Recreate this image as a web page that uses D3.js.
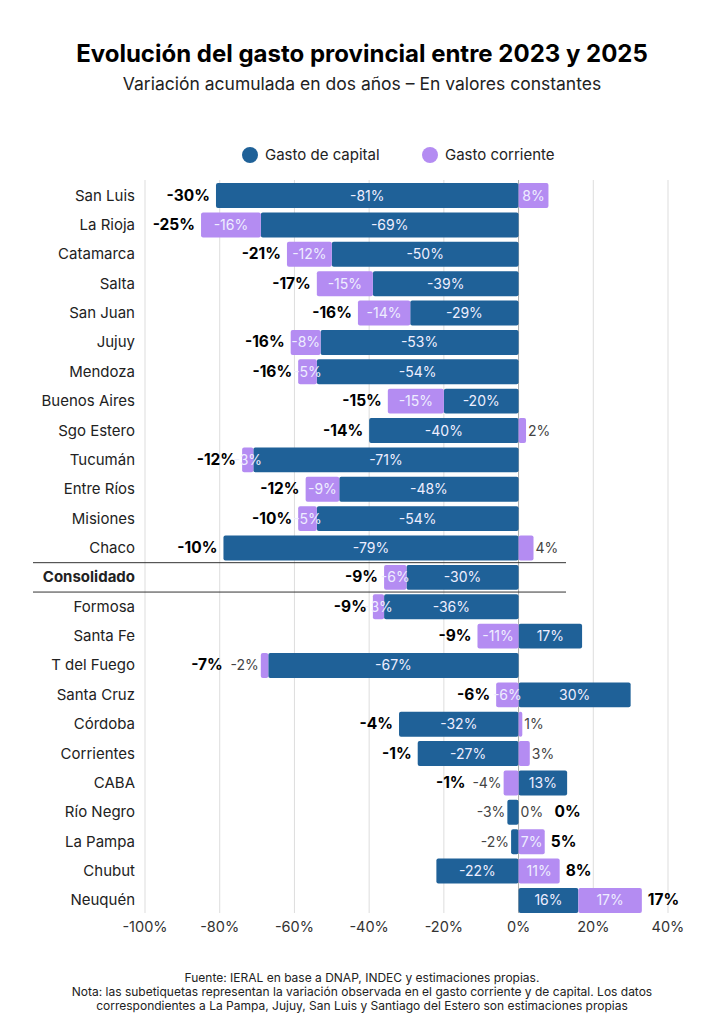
<!DOCTYPE html>
<html><head><meta charset="utf-8">
<script src="https://cdn.jsdelivr.net/npm/d3@7"></script>
<style>body{margin:0;background:#fff;font-family:Inter,"Noto Sans",sans-serif}</style>
</head><body><svg id="chart" width="724" height="1024"></svg>
<script>
const provinces = ["San Luis","La Rioja","Catamarca","Salta","San Juan","Jujuy","Mendoza","Buenos Aires","Sgo Estero","Tucumán","Entre Ríos","Misiones","Chaco","Consolidado","Formosa","Santa Fe","T del Fuego","Santa Cruz","Córdoba","Corrientes","CABA","Río Negro","La Pampa","Chubut","Neuquén"];
const capital = [-81,-69,-50,-39,-29,-53,-54,-20,-40,-71,-48,-54,-79,-30,-36,17,-67,30,-32,-27,13,-3,-2,-22,16];
const corriente = [8,-16,-12,-15,-14,-8,-5,-15,2,-3,-9,-5,4,-6,-3,-11,-2,-6,1,3,-4,0,7,11,17];
const total = [-30,-25,-21,-17,-16,-16,-16,-15,-14,-12,-12,-10,-10,-9,-9,-9,-7,-6,-4,-1,-1,0,5,8,17];
const ticks = [-100,-80,-60,-40,-20,0,20,40];

const C_CAP = "#1f6198", C_COR = "#b48cf2";
const svg = d3.select("#chart");
const x = d3.scaleLinear().domain([-100,40]).range([145,668]);
const y = d3.scaleBand().domain(provinces).range([181,915]).paddingInner(0.15).paddingOuter(0.07);

svg.append("text").attr("x",362).attr("y",62).attr("text-anchor","middle")
  .attr("font-size",24).attr("font-weight",700).text("Evolución del gasto provincial entre 2023 y 2025");
svg.append("text").attr("x",362).attr("y",90).attr("text-anchor","middle")
  .attr("font-size",17.5).attr("fill","#222").text("Variación acumulada en dos años – En valores constantes");

// legend
[[C_CAP,"Gasto de capital",250],[C_COR,"Gasto corriente",430]].forEach(([c,t,lx])=>{
  svg.append("circle").attr("cx",lx).attr("cy",155).attr("r",8).attr("fill",c);
  svg.append("text").attr("x",lx+15).attr("y",160).attr("font-size",15).attr("fill","#222").text(t);
});

// grid
svg.selectAll(".grid").data(ticks).enter().append("line")
  .attr("x1",d=>x(d)).attr("x2",d=>x(d)).attr("y1",180).attr("y2",913)
  .attr("stroke",d=>d===0?"#aaa":"#ddd").attr("stroke-width",1);
svg.selectAll(".tick").data(ticks).enter().append("text")
  .attr("x",d=>x(d)).attr("y",932).attr("text-anchor","middle").attr("font-size",14.5).attr("fill","#333")
  .text(d=>d+"%");

// separator for Consolidado
const yc = y("Consolidado"), step = y.step();
[yc-(step-y.bandwidth())/2, yc+y.bandwidth()+(step-y.bandwidth())/2].forEach(ly=>{
  svg.append("line").attr("x1",33).attr("x2",566).attr("y1",ly).attr("y2",ly).attr("stroke","#333");
});

const fmt = v => v+"%";
provinces.forEach((p,i)=>{
  const yy = y(p), h = y.bandwidth(), cy = yy+h/2+5;
  svg.append("text").attr("x",135).attr("y",cy).attr("text-anchor","end").attr("font-size",15)
    .attr("font-weight",p==="Consolidado"?700:400).attr("fill","#222").text(p);
  const cap = capital[i], cor = corriente[i];
  const stacked = Math.sign(cor)===Math.sign(cap);
  const corStart = stacked ? cap : 0;
  const segs = [
    {a:0,b:cap,v:cap,c:C_CAP,inside:Math.abs(cap)>=5},
    {a:corStart,b:corStart+cor,v:cor,c:C_COR,inside:Math.abs(cor)>=5||(stacked&&cor<0&&Math.abs(cor)>=3)}
  ];
  let minX = x(0), maxX = x(0);
  segs.forEach(s=>{
    const x0 = x(Math.min(s.a,s.b)), x1 = x(Math.max(s.a,s.b));
    if (x1-x0>0) svg.append("rect").attr("x",x0).attr("y",yy).attr("width",x1-x0).attr("height",h)
      .attr("rx",2).attr("fill",s.c);
    minX = Math.min(minX,x0); maxX = Math.max(maxX,x1);
  });
  segs.forEach(s=>{
    const x0 = x(Math.min(s.a,s.b)), x1 = x(Math.max(s.a,s.b));
    if (s.inside) {
      svg.append("text").attr("x",(x0+x1)/2).attr("y",cy).attr("text-anchor","middle")
        .attr("font-size",14).attr("fill","#eef").text(fmt(s.v));
    } else {
      const right = s.v>=0;
      const tx = right ? Math.max(x1,maxX)+2 : Math.min(x0,minX)-2;
      svg.append("text").attr("x",tx).attr("y",cy).attr("text-anchor",right?"start":"end")
        .attr("font-size",14).attr("fill","#444").text(fmt(s.v));
      if (right) maxX = Math.max(maxX, tx+28); else minX = Math.min(minX, tx-30);
    }
  });
  const t = total[i];
  if (t<0) svg.append("text").attr("x",minX-6).attr("y",cy).attr("text-anchor","end")
    .attr("font-size",15.5).attr("font-weight",700).text(fmt(t));
  else svg.append("text").attr("x",maxX+6).attr("y",cy).attr("text-anchor","start")
    .attr("font-size",15.5).attr("font-weight",700).text(fmt(t));
});

["Fuente: IERAL en base a DNAP, INDEC y estimaciones propias.",
 "Nota: las subetiquetas representan la variación observada en el gasto corriente y de capital. Los datos",
 "correspondientes a La Pampa, Jujuy, San Luis y Santiago del Estero son estimaciones propias"]
.forEach((t,k)=>svg.append("text").attr("x",362).attr("y",982+k*14).attr("text-anchor","middle")
  .attr("font-size",12).attr("fill","#222").text(t));
</script></body></html>
